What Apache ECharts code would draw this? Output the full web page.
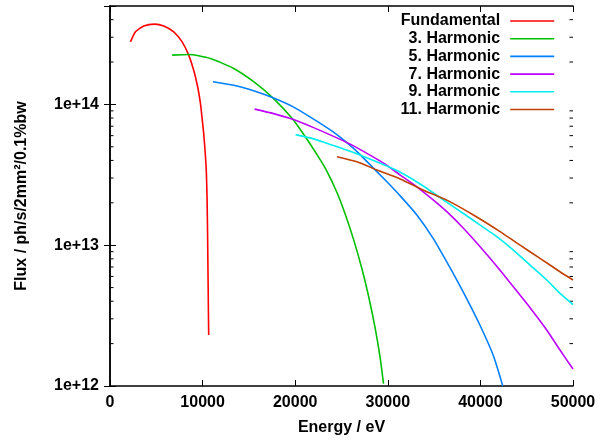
<!DOCTYPE html>
<html>
<head>
<meta charset="utf-8">
<script src="https://cdn.jsdelivr.net/npm/echarts@6/dist/echarts.min.js"></script>
<style>html,body{margin:0;padding:0;background:#fff}#c{width:613px;height:442px}</style>
</head>
<body>
<div id="c"></div>
<script>
var seriesNames = ['Fundamental', '3. Harmonic', '5. Harmonic', '7. Harmonic', '9. Harmonic', '11. Harmonic'];
var seriesColors = ['#ff0000', '#00c000', '#0080ff', '#c000ff', '#00eeee', '#c04000'];

var fundamental = [[2211,2.78e14],[2751,3.28e14],[3646,3.61e14],[4833,3.72e14],[5804,3.61e14],[6883,3.28e14],[7789,2.78e14],[8501,2.24e14],[9040,1.75e14],[9471,1.33e14],[9763,1.02e14],[9946,7.96e13],[10119,6.22e13],[10378,3.61e13],[10486,2.09e13],[10550,1.03e13],[10626,3.47e12],[10658,2.30e12]];
var harmonic3 = [[6710,2.24e14],[8500,2.26e14],[10841,2.12e14],[13355,1.80e14],[15512,1.45e14],[17670,1.10e14],[19655,7.96e13],[21090,5.89e13],[22524,4.22e13],[23430,3.35e13],[24509,2.37e13],[25404,1.66e13],[26300,1.10e13],[27206,6.8e12],[27918,4.36e12],[28641,2.57e12],[29180,1.58e12],[29536,1.04e12]];
var harmonic5 = [[11111,1.45e14],[13355,1.37e14],[15512,1.25e14],[17670,1.11e14],[19828,9.57e13],[21985,7.86e13],[24143,6.35e13],[26300,4.87e13],[28101,3.72e13],[29903,2.82e13],[31338,2.24e13],[33139,1.64e13],[34930,1.11e13],[36732,6.9e12],[38166,4.62e12],[39968,2.69e12],[41402,1.64e12],[42420,1.0e12]];
var harmonic7 = [[15610,9.26e13],[17670,8.60e13],[19828,7.80e13],[21985,6.84e13],[24143,5.93e13],[25944,5.22e13],[27745,4.49e13],[29536,3.83e13],[31338,3.15e13],[33139,2.60e13],[34930,2.09e13],[36375,1.73e13],[38166,1.32e13],[39968,9.75e12],[41770,7.08e12],[43560,5.07e12],[45361,3.60e12],[47163,2.50e12],[48594,1.80e12],[50000,1.32e12]];
var harmonic9 = [[20043,6.10e13],[21985,5.69e13],[24143,5.10e13],[26300,4.55e13],[28457,3.99e13],[30981,3.39e13],[33495,2.72e13],[36375,2.02e13],[38166,1.68e13],[39968,1.39e13],[41770,1.15e13],[43560,9.24e12],[45361,7.23e12],[47163,5.66e12],[48594,4.55e12],[50000,3.79e12]];
var harmonic11 = [[24509,4.25e13],[26667,3.91e13],[28824,3.42e13],[31338,2.95e13],[33851,2.46e13],[36375,2.09e13],[39245,1.64e13],[42125,1.25e13],[44284,1.00e13],[46436,8.07e12],[48594,6.48e12],[50000,5.66e12]];

var xMin = 0, xMax = 50000, xInterval = 10000;
var yMin = 1e12, yMax = 5e14;
var yMinorTicks = [2e12,3e12,4e12,5e12,6e12,7e12,8e12,9e12,2e13,3e13,4e13,5e13,6e13,7e13,8e13,9e13,2e14,3e14,4e14];

var allData = [fundamental, harmonic3, harmonic5, harmonic7, harmonic9, harmonic11];
var FONT = '"Liberation Sans", Arial, sans-serif';
var FS = 16;

var chart = echarts.init(document.getElementById('c'), null, {renderer: 'canvas'});

var series = allData.map(function (d, i) {
  return {
    name: seriesNames[i],
    type: 'line',
    data: d,
    xAxisIndex: 0,
    yAxisIndex: 0,
    showSymbol: false,
    symbol: 'none',
    smooth: 0.2,
    lineStyle: {color: seriesColors[i], width: 1.6},
    itemStyle: {color: seriesColors[i]},
    z: 3,
    animation: false
  };
});

series.push({
  type: 'custom',
  xAxisIndex: 0,
  yAxisIndex: 0,
  silent: true,
  clip: false,
  animation: false,
  data: yMinorTicks.map(function (v) { return [xMin, v]; }),
  renderItem: function (params, api) {
    var v = api.value(1);
    var l = api.coord([xMin, v]);
    var r = api.coord([xMax, v]);
    return {
      type: 'group',
      children: [
        {type: 'line', shape: {x1: l[0], y1: l[1], x2: l[0] + 3.5, y2: l[1]}, style: {stroke: '#000', lineWidth: 1}},
        {type: 'line', shape: {x1: r[0], y1: r[1], x2: r[0] - 3.5, y2: r[1]}, style: {stroke: '#000', lineWidth: 1}}
      ]
    };
  },
  z: 2
});

var axisLineStyle = {color: '#000', width: 1.5};

chart.setOption({
  backgroundColor: '#fff',
  animation: false,
  grid: {left: 110, right: 40, top: 6, bottom: 56, containLabel: false},
  legend: {
    data: seriesNames,
    orient: 'vertical',
    right: 53,
    top: 8,
    align: 'right',
    itemWidth: 44,
    itemHeight: 14,
    itemGap: 1.7,
    itemStyle: {opacity: 0},
    lineStyle: {width: 1.6},
    textStyle: {fontFamily: FONT, fontWeight: 'bold', fontSize: FS, color: '#000', padding: [0, 5, 0, 0]},
    selectedMode: false
  },
  xAxis: [{
    type: 'value', position: 'bottom', min: xMin, max: xMax, interval: xInterval,
    name: 'Energy / eV', nameLocation: 'middle', nameGap: 34,
    nameTextStyle: {fontFamily: FONT, fontWeight: 'bold', fontSize: FS, color: '#000'},
    axisLine: {show: true, lineStyle: axisLineStyle},
    axisTick: {show: true, inside: true, length: 6, lineStyle: {color: '#000', width: 1}},
    axisLabel: {fontFamily: FONT, fontWeight: 'bold', fontSize: FS, color: '#000', margin: 9,
      formatter: function (v) { return String(v); }},
    splitLine: {show: false}
  }, {
    type: 'value', position: 'top', min: xMin, max: xMax, interval: xInterval,
    axisLine: {show: true, lineStyle: axisLineStyle},
    axisTick: {show: true, inside: true, length: 6, lineStyle: {color: '#000', width: 1}},
    axisLabel: {show: false},
    splitLine: {show: false}
  }],
  yAxis: [{
    type: 'log', logBase: 10, position: 'left', min: yMin, max: yMax,
    name: 'Flux / ph/s/2mm\u00b2/0.1%bw', nameLocation: 'middle', nameGap: 80, nameRotate: 90,
    nameTextStyle: {fontFamily: FONT, fontWeight: 'bold', fontSize: FS, color: '#000'},
    axisLine: {show: true, lineStyle: axisLineStyle},
    axisTick: {show: true, inside: true, length: 6, lineStyle: {color: '#000', width: 1}},
    axisLabel: {
      fontFamily: FONT, fontWeight: 'bold', fontSize: FS, color: '#000', margin: 11,
      formatter: function (v) {
        var e = Math.log10(v);
        return Math.abs(e - Math.round(e)) < 1e-6 ? '1e+' + Math.round(e) : '';
      }
    },
    splitLine: {show: false}
  }, {
    type: 'log', logBase: 10, position: 'right', min: yMin, max: yMax,
    axisLine: {show: true, lineStyle: axisLineStyle},
    axisTick: {show: true, inside: true, length: 6, lineStyle: {color: '#000', width: 1}},
    axisLabel: {show: false},
    splitLine: {show: false}
  }],
  series: series
});
</script>
</body>
</html>
